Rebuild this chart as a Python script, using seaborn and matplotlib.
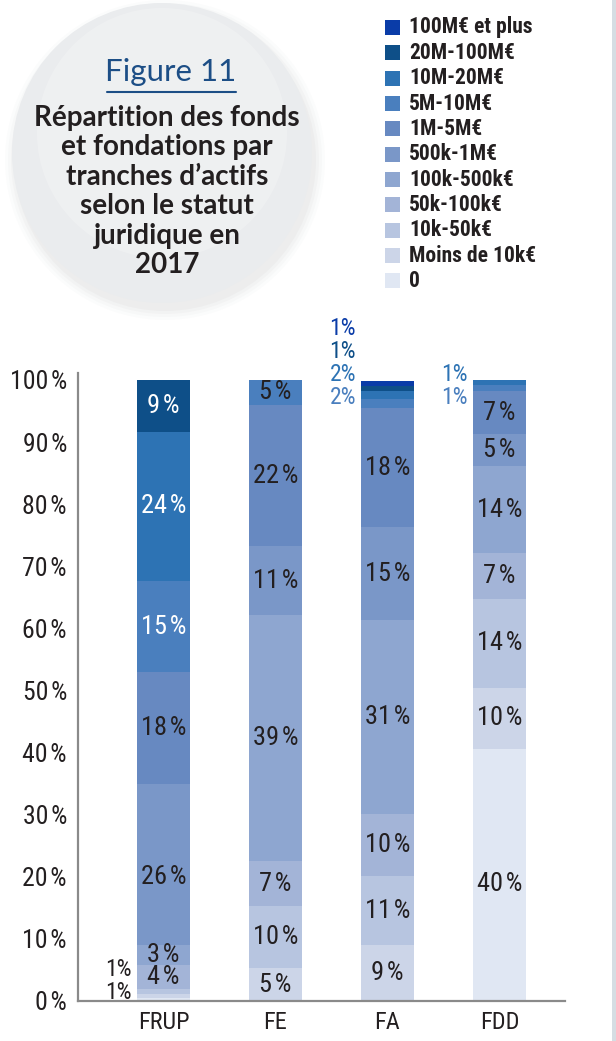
import numpy as np
import pandas as pd
import matplotlib
matplotlib.use("Agg")
import matplotlib.pyplot as plt
import seaborn as sns
from matplotlib import font_manager as fm
from matplotlib.patches import Circle, Rectangle
from matplotlib.lines import Line2D

# ---------------- data ----------------
statuts = ["FRUP", "FE", "FA", "FDD"]
tranches = ["0", "Moins de 10k€", "10k-50k€", "50k-100k€", "100k-500k€", "500k-1M€",
            "1M-5M€", "5M-10M€", "10M-20M€", "20M-100M€", "100M€ et plus"]
colors = ["#e0e7f3", "#ccd5e8", "#b7c5e0", "#a3b4d7", "#8ea6d0", "#7a97c8",
          "#6789c1", "#4a7fbe", "#2d73b4", "#0e4f88", "#0a3ca8"]

frup = [0.5, 0.6, 0.8, 3.9, 3.2, 26.0, 17.9, 14.8, 24.0, 8.3, 0.0]
fe = [0.0, 5.3, 10.0, 7.2, 39.7, 11.0, 22.8, 4.0, 0.0, 0.0, 0.0]
fa = [0.0, 9.0, 11.1, 10.0, 31.2, 15.0, 19.2, 1.4, 1.3, 0.9, 0.8]
fdd = [40.6, 9.8, 14.4, 7.3, 14.0, 5.2, 6.9, 1.0, 0.8, 0.0, 0.0]

# labels written inside the segments ("" = none)
lab_frup = ["", "", "", "4", "3", "26", "18", "15", "24", "9", ""]
lab_fe = ["", "5", "10", "7", "39", "11", "22", "5", "", "", ""]
lab_fa = ["", "9", "11", "10", "31", "15", "18", "", "", "", ""]
lab_fdd = ["40", "10", "14", "7", "14", "5", "7", "", "", "", ""]

# labels written beside the bars: (statut, tranche, text, y position in %)
side_labels = [
    ("FRUP", "10k-50k€", "1%", 5.1),
    ("FRUP", "Moins de 10k€", "1%", 1.4),
    ("FA", "100M€ et plus", "1%", 108.3),
    ("FA", "20M-100M€", "1%", 104.6),
    ("FA", "10M-20M€", "2%", 100.9),
    ("FA", "5M-10M€", "2%", 97.2),
    ("FDD", "10M-20M€", "1%", 100.9),
    ("FDD", "5M-10M€", "1%", 97.2),
]
white_text = {"9", "24", "15"}
# small vertical shifts (in %) of some inside labels
label_shift = {("FRUP", "26"): -2.0, ("FDD", "40"): -1.5}

values = {"FRUP": frup, "FE": fe, "FA": fa, "FDD": fdd}
labels = {"FRUP": lab_frup, "FE": lab_fe, "FA": lab_fa, "FDD": lab_fdd}

rows = []
for s in statuts:
    for t, v in zip(tranches, values[s]):
        rows.append({"statut": s, "tranche": t, "pct": v})
df = pd.DataFrame(rows)
df["cum"] = df.groupby("statut")["pct"].cumsum()

# ---------------- fonts ----------------
names = {f.name for f in fm.fontManager.ttflist}
def pick(*cands):
    for c in cands:
        if c in names:
            return c
    return "DejaVu Sans"
COND = pick("Liberation Sans Narrow", "Roboto Condensed", "Open Sans Condensed")
TITLE = pick("Lato", "Open Sans", "Noto Sans")

sns.set_theme(style="white")
plt.rcParams["font.family"] = [COND, "DejaVu Sans"]

W, H = 616, 1041
fig = plt.figure(figsize=(W / 100, H / 100), dpi=100)
fig.patch.set_facecolor("white")

def fx(px):
    return px / W
def fy(py):
    return 1 - py / H

ax_left, ax_right, ax_bot, ax_top = 78, 565, 1001, 373
ax = fig.add_axes([fx(ax_left), fy(ax_bot), fx(ax_right - ax_left), (ax_bot - ax_top) / H])
ax.set_facecolor("none")

bar_w = 0.473
# stacked bars: draw cumulative heights from the top tranche downward
for i in range(len(tranches) - 1, -1, -1):
    sub = df[df["tranche"] == tranches[i]]
    sns.barplot(data=sub, x="statut", y="cum", order=statuts, color=colors[i],
                saturation=1, width=bar_w, errorbar=None, linewidth=0, ax=ax)

ymax = 100 * (ax_bot - ax_top) / (ax_bot - 380)
ax.set_ylim(0, ymax)
ax.set_xlim(-0.763, 3.585)

FS = 19
# inside labels
for xi, s in enumerate(statuts):
    vals = values[s]
    cum = np.cumsum(vals)
    for j, lab in enumerate(labels[s]):
        if not lab:
            continue
        yc = cum[j] - vals[j] / 2 + label_shift.get((s, lab), 0)
        col = "white" if (s == "FRUP" and lab in white_text and j >= 7) else "#231f20"
        ax.text(xi, yc, lab + "\u200a%", ha="center", va="center", fontsize=FS,
                color=col, family=[COND, "DejaVu Sans"])

# side labels
for s, t, txt, yv in side_labels:
    xi = statuts.index(s)
    col = colors[tranches.index(t)]
    if s == "FRUP":
        col = "#231f20"
    ax.text(xi - bar_w / 2 - 0.045, yv, txt, ha="right", va="center",
            fontsize=17, color=col, family=[COND, "DejaVu Sans"], clip_on=False)

# axes styling
ax.set_yticks(range(0, 101, 10))
ax.set_yticklabels([f"{v}\u200a%" for v in range(0, 101, 10)], fontsize=18.5,
                   color="#231f20", family=[COND, "DejaVu Sans"])
ax.set_xticks(range(len(statuts)))
ax.set_xticklabels(statuts, fontsize=17.5, color="#231f20", family=[COND, "DejaVu Sans"])
ax.tick_params(axis="y", length=0, pad=8)
ax.tick_params(axis="x", length=0, pad=7)
ax.set_xlabel("")
ax.set_ylabel("")
for side in ["top", "right"]:
    ax.spines[side].set_visible(False)
for side in ["left", "bottom"]:
    ax.spines[side].set_color("#8a8a8a")
    ax.spines[side].set_linewidth(1.6)

# ---------------- title bubble ----------------
cx, cy, r = 162, 153, 150
for k, a in enumerate([0.06, 0.05, 0.04, 0.03]):
    sh = Circle(((cx + 3) / 100, (H - cy - 7) / 100), (r + 1 + 3 * k) / 100,
                transform=fig.dpi_scale_trans, facecolor="#9aa0a6", alpha=a,
                edgecolor="none", zorder=1)
    fig.add_artist(sh)
circ = Circle((cx / 100, (H - cy) / 100), r / 100, transform=fig.dpi_scale_trans,
              facecolor="#eaecee", edgecolor="none", zorder=2)
fig.add_artist(circ)
circ2 = Circle((cx / 100, (H - cy + 20) / 100), (r - 25) / 100, transform=fig.dpi_scale_trans,
               facecolor="#f2f3f4", edgecolor="none", alpha=0.6, zorder=2)
fig.add_artist(circ2)

fig.text(fx(171), fy(72), "Figure 11", ha="center", va="center", fontsize=22.5,
         color="#1c4e86", family=[TITLE, "DejaVu Sans"], zorder=3)
fig.add_artist(Line2D([fx(107), fx(236)], [fy(92), fy(92)], color="#1c4e86",
                      linewidth=1.5, zorder=3))
title_lines = ["Répartition des fonds", "et fondations par", "tranches d\u2019actifs",
               "selon le statut", "juridique en", "2017"]
for k, line in enumerate(title_lines):
    fig.text(fx(167), fy(118 + 29.5 * k), line, ha="center", va="center", fontsize=20,
             fontweight="bold", color="#231f20", family=[TITLE, "DejaVu Sans"], zorder=3)

# ---------------- legend ----------------
for k, idx in enumerate(range(len(tranches) - 1, -1, -1)):
    yc = 27.5 + 25.35 * k
    fig.add_artist(Rectangle((fx(385), fy(yc + 7.5)), 15 / W, 15 / H,
                             transform=fig.transFigure, facecolor=colors[idx],
                             edgecolor="none"))
    fig.text(fx(409), fy(yc), tranches[idx], ha="left", va="center", fontsize=15.5,
             fontweight="bold", color="#231f20", family=[COND, "DejaVu Sans"])

# right border strip
fig.add_artist(Rectangle((fx(612), 0), 4 / W, 1, transform=fig.transFigure,
                         facecolor="#d6dde3", edgecolor="none"))

fig.savefig("out.png", dpi=100)
